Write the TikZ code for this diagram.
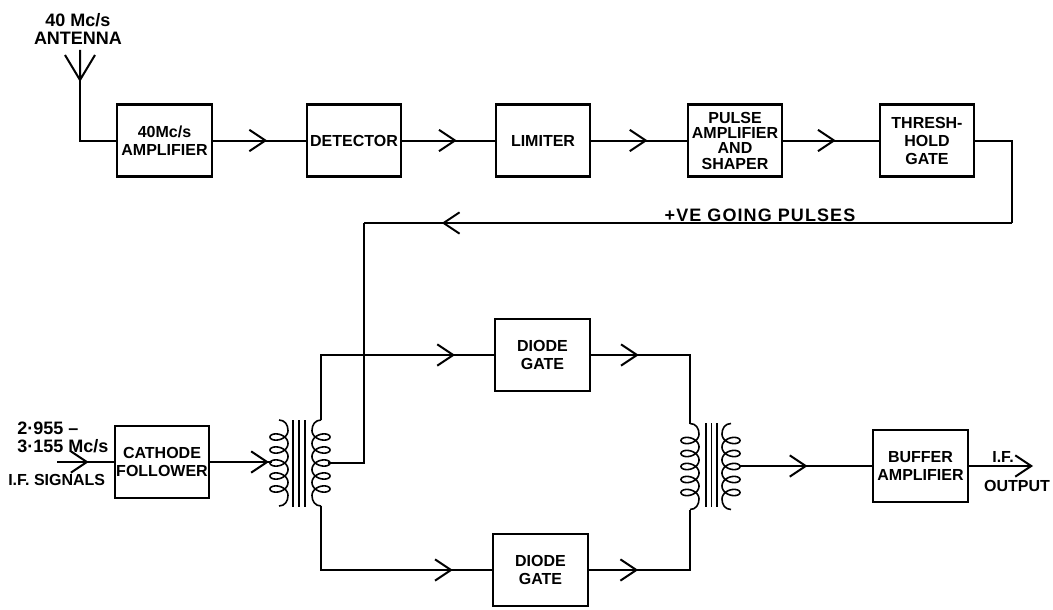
\documentclass[tikz,border=0pt]{standalone}
\usepackage{fontspec}
\setmainfont{Liberation Sans}
\usetikzlibrary{arrows.meta,decorations.markings}

\tikzset{
chev/.tip={Straight Barb[length=12pt,width=16pt,line width=1.5pt]},
flow/.style={postaction={decorate,decoration={markings,mark=at position #1 with {\arrow{chev}}}}},
coil/.pic={
\draw[line width=1.2pt] (-1,-43) .. controls (5,-43) and (8,-38) .. (8,-32.5)
 -- plot[domain=0:1800,samples=200,variable=\t] ({-1+9*cos(\t)},{-32.5+\t/360*13+6*sin(\t)})
 .. controls (8,38) and (5,43) .. (-1,43);
}
}

\begin{document}
\begin{tikzpicture}
[
x=0.75pt,y=-0.75pt,
wire/.style={line width=1.5pt},
block/.style={rectangle, draw=black, line width=1.6pt, minimum width=71pt, minimum height=54pt, align=center, font=\bfseries\fontsize{12}{13.5}\selectfont, inner sep=0pt, text width=70pt},
lbl/.style={align=left, font=\bfseries\fontsize{12}{13.5}\selectfont, inner sep=0pt},
lblbig/.style={lbl, font=\bfseries\fontsize{13.5}{13.5}\selectfont},
core/.style={line width=1.2pt}
]
\useasboundingbox (0,0) rectangle (1053,610);

%Top row
\node[block]        (amp40)     at (164.5,140.5)    {40Mc/s\\AMPLIFIER};
\node[block]        (detector)  at (354,140.5)      {DETECTOR};
\node[block]        (limiter)   at (543,140.5)      {LIMITER};
\node[block]        (shaper)    at (735,140.5)      {PULSE\\[-2pt]AMPLIFIER\\[-2pt]AND\\[-2pt]SHAPER};
\node[block]        (gate)      at (927,140.5)      {THRESH-\\HOLD\\GATE};

%Lower row
\node[block]        (follower)  at (162,462)        {CATHODE\\FOLLOWER};
\node[block]        (diodetop)  at (542.5,355)      {DIODE\\GATE};
\node[block]        (diodebot)  at (540.5,570)      {DIODE\\GATE};
\node[block]        (buffer)    at (920.5,466)      {BUFFER\\AMPLIFIER};

%Labels
\node[lblbig,align=center] (antlabel) at (78,29)    {40 Mc/s\\ANTENNA};
\node[lblbig]       (pulses)    at (760,215)        {\addfontfeature{LetterSpace=6}+VE GOING PULSES};
\node[lblbig,anchor=west] (iffreq) at (17,437)      {2·955 –\\3·155 Mc/s};
\node[lbl,anchor=west] (ifsig)  at (8,480)          {I.F. SIGNALS};
\node[lbl]          (ifout)     at (1003,457)       {I.F.};
\node[lbl]          (output)    at (1017,486)       {OUTPUT};

%Free ends
\coordinate (aerial)    at (80,80);
\coordinate (aerialtop) at (80,50);
\coordinate (aerialL)   at (65,55);
\coordinate (aerialR)   at (95,55);
\coordinate (ifin)      at (57,462);
\coordinate (ifend)     at (1033,466);
\coordinate (prim)      at (272,462);
\coordinate (tap)       at (328,463);
\coordinate (sectop)    at (321,420);
\coordinate (secbot)    at (321,506);
\coordinate (combtop)   at (690,423.5);
\coordinate (combbot)   at (690,509.5);
\coordinate (combout)   at (739,466);
\coordinate (feedturn)  at (1012,223);
\coordinate (feeddown)  at (364,223);

%Transformers
\pic at (280,463) {coil};
\pic[xscale=-1] at (320,463) {coil};
\pic at (691,466.5) {coil};
\pic[xscale=-1] at (730,466.5) {coil};
\foreach \corex in {293,299,305}
  \draw[core] (\corex,420) -- (\corex,507);
\foreach \corex in {706,711.5,717}
  \draw[core] (\corex,423) -- (\corex,507);

%Lines
\draw[wire] (aerialL) -- (aerial) -- (aerialR) (aerialtop) -- (aerial);
\draw[wire] (aerial) |- (amp40.west);
\draw[wire,flow=0.585] (amp40.east) -- (detector.west);
\draw[wire,flow=0.59] (detector.east) -- (limiter.west);
\draw[wire,flow=0.59] (limiter.east) -- (shaper.west);
\draw[wire,flow=0.55] (shaper.east) -- (gate.west);
\draw[wire] (gate.east) -| (feedturn);
\draw[wire,flow=0.88] (feedturn) -- (feeddown);
\draw[wire] (feeddown) |- (tap);
\draw[wire,flow=0.56] (ifin) -- (follower.west);
\draw[wire,flow=0.95] (follower.east) -- (prim);
\draw[wire,flow=0.836] (sectop) |- (diodetop.west);
\draw[wire,flow=0.833] (secbot) |- (diodebot.west);
\draw[wire,flow=0.286] (diodetop.east) -| (combtop);
\draw[wire,flow=0.305] (diodebot.east) -| (combbot);
\draw[wire,flow=0.515] (combout) -- (buffer.west);
\draw[wire,-{chev}] (buffer.east) -- (ifend);
\end{tikzpicture}
\end{document}
